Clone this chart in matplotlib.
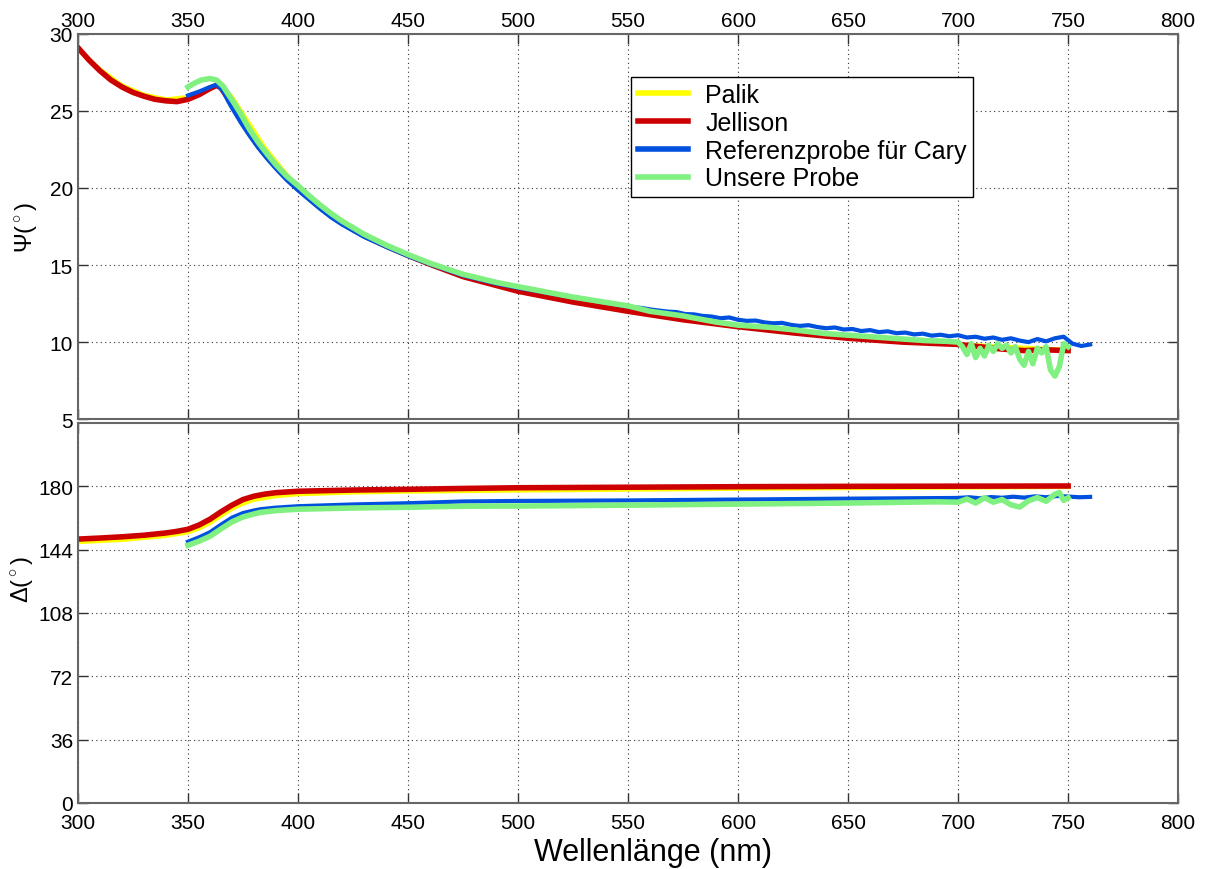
import matplotlib
matplotlib.use("Agg")
import matplotlib.pyplot as plt

plt.rcParams['font.family'] = ['Liberation Sans', 'DejaVu Sans']
plt.rcParams['mathtext.fontset'] = 'custom'
plt.rcParams['mathtext.rm'] = 'Liberation Sans'
plt.rcParams['mathtext.it'] = 'Liberation Sans'

# ---- Psi data (degrees) ----
palik_psi_wl = [300, 310, 320, 330, 340, 350, 355, 360, 363, 366, 370, 375, 380, 385, 390, 400,
                410, 420, 440, 460, 500, 550, 600, 650, 700, 750]
palik_psi = [29.0, 27.7, 26.65, 26.05, 25.75, 25.9, 26.2, 26.55, 26.7, 26.5, 25.9, 24.8, 23.7, 22.6,
             21.7, 20.0, 18.8, 17.8, 16.2, 15.05, 13.4, 12.05, 11.1, 10.3, 9.85, 9.5]

jell_psi_wl = [300, 305, 310, 315, 320, 325, 330, 335, 340, 345, 350, 355, 360, 363, 365, 368, 370,
               374, 378, 382, 386, 390, 395, 400, 405, 410, 415, 420, 430, 440, 450, 460, 475, 490,
               500, 525, 550, 575, 600, 625, 650, 675, 700, 710, 720, 730, 740, 750]
jell_psi = [29.1, 28.3, 27.6, 27.0, 26.55, 26.2, 25.95, 25.75, 25.65, 25.6, 25.75, 26.05, 26.45,
            26.65, 26.5, 25.85, 25.35, 24.4, 23.5, 22.7, 22.0, 21.35, 20.6, 19.95, 19.35, 18.75,
            18.2, 17.72, 16.9, 16.24, 15.62, 15.05, 14.25, 13.68, 13.3, 12.6, 12.0, 11.45, 11.0,
            10.6, 10.25, 10.0, 9.85, 9.7, 9.55, 9.45, 9.5, 9.45]

ref_psi_wl = [350, 355, 360, 363, 366, 368, 370, 374, 378, 382, 386, 390, 395, 400, 405, 410, 415,
              420, 430, 440, 450, 460, 475, 490, 500, 510, 520, 530, 540, 550,
              552, 556, 560, 564, 568, 572, 576, 580, 584, 588, 592, 596, 600, 604, 608, 612, 616,
              620, 624, 628, 632, 636, 640, 644, 648, 652, 656, 660, 664, 668, 672, 676, 680, 684,
              688, 692, 696, 700, 704, 708, 712, 716, 720, 724, 728, 732, 736, 740, 744, 748, 752,
              756, 760]
ref_psi = [26.0, 26.25, 26.55, 26.7, 26.3, 25.7, 25.2, 24.25, 23.4, 22.6, 21.9, 21.25, 20.5, 19.85,
           19.25, 18.65, 18.1, 17.63, 16.83, 16.18, 15.58, 15.05, 14.32, 13.8, 13.52, 13.28, 13.02,
           12.8, 12.55, 12.3,
           12.25, 12.22, 12.12, 12.05, 11.98, 11.95, 11.82, 11.8, 11.7, 11.66, 11.55, 11.6, 11.45,
           11.38, 11.4, 11.28, 11.22, 11.25, 11.12, 11.05, 11.1, 10.98, 10.9, 10.95, 10.82, 10.85,
           10.72, 10.78, 10.65, 10.7, 10.58, 10.62, 10.5, 10.55, 10.42, 10.48, 10.38, 10.45, 10.3,
           10.35, 10.22, 10.3, 10.15, 10.25, 10.1, 10.0, 10.2, 10.05, 10.25, 10.35, 9.9, 9.75, 9.85]

probe_psi_wl = [350, 353, 356, 360, 363, 366, 368, 371, 374, 378, 382, 386, 390, 395, 400, 405, 410,
                415, 420, 430, 440, 450, 460, 475, 490, 500, 525, 550, 560, 575, 590, 600, 615, 625,
                640, 650, 660, 675, 685, 695,
                700, 702, 704, 706, 708, 710, 712, 714, 716, 718, 720, 722, 724, 726, 728, 730, 732,
                734, 736, 738, 740, 742, 744, 746, 748, 750]
probe_psi = [26.55, 26.8, 27.0, 27.1, 27.0, 26.6, 26.15, 25.5, 24.8, 23.8, 22.95, 22.2, 21.5, 20.75,
             20.15, 19.5, 18.9, 18.35, 17.85, 17.0, 16.3, 15.68, 15.12, 14.4, 13.88, 13.6, 12.92,
             12.35, 12.0, 11.7, 11.3, 11.1, 10.95, 10.8, 10.55, 10.45, 10.35, 10.2, 10.1, 10.05,
             10.0, 9.7, 9.2, 9.9, 9.0, 9.6, 9.1, 9.8, 9.4, 9.9, 9.6, 9.8, 9.3, 9.7, 8.9, 8.5, 9.4,
             8.6, 9.6, 9.3, 9.7, 8.2, 7.8, 8.4, 9.9, 9.7]

# ---- Delta data (degrees) ----
palik_del_wl = [300, 320, 340, 350, 355, 360, 365, 370, 375, 380, 390, 400, 425, 450, 500, 550, 600,
                650, 700, 750]
palik_del = [148.3, 149.5, 151.8, 153.8, 156.0, 159.2, 163.3, 167.2, 170.2, 172.3, 174.4, 175.5,
             176.5, 177.0, 177.6, 178.1, 178.6, 179.0, 179.3, 179.6]

jell_del_wl = [300, 310, 320, 330, 340, 345, 350, 355, 360, 365, 370, 375, 380, 385, 390, 400, 425,
               450, 475, 500, 550, 600, 650, 700, 750]
jell_del = [150.0, 150.6, 151.3, 152.2, 153.5, 154.4, 155.6, 158.0, 161.3, 165.5, 169.3, 172.5,
            174.4, 175.6, 176.4, 177.2, 177.9, 178.3, 178.8, 179.2, 179.5, 179.8, 180.0, 180.1, 180.2]

ref_del_wl = [350, 355, 360, 365, 370, 375, 380, 383, 390, 400, 425, 450, 475, 500, 550, 600, 650,
              700, 705, 710, 715, 720, 725, 730, 735, 740, 745, 750, 755, 760]
ref_del = [148.5, 151.0, 153.9, 158.2, 162.2, 164.8, 166.3, 167.0, 167.9, 168.7, 169.7, 170.4,
           171.4, 171.7, 172.0, 172.5, 173.0, 173.4, 173.8, 173.2, 173.9, 173.5, 174.1, 173.6,
           174.3, 173.8, 174.5, 174.2, 173.8, 174.0]

probe_del_wl = [350, 355, 360, 365, 370, 375, 380, 383, 390, 400, 425, 450, 475, 500, 550, 600, 650,
                690, 700, 704, 708, 712, 716, 720, 724, 728, 732, 736, 740, 744, 746, 748, 750]
probe_del = [146.5, 148.8, 151.6, 155.8, 159.8, 162.6, 164.3, 165.2, 166.2, 167.0, 167.7, 168.1,
             168.7, 168.8, 169.3, 169.9, 170.5, 171.2, 171.0, 172.8, 170.5, 173.5, 171.0, 172.5,
             169.5, 168.2, 171.8, 173.6, 171.5, 175.5, 176.5, 172.0, 173.5]

labels = ['Palik', 'Jellison', 'Referenzprobe für Cary', 'Unsere Probe']
colors = ['#ffff00', '#cc0000', '#0050e0', '#80f080']
widths = [3.0, 4.0, 3.0, 4.0]

x_ticks = [300, 350, 400, 450, 500, 550, 600, 650, 700, 750, 800]
psi_ticks = [5, 10, 15, 20, 25, 30]
del_ticks = [0, 36, 72, 108, 144, 180]

fig = plt.figure(figsize=(12.05, 8.7), dpi=100)
ax1 = fig.add_axes([0.0647, 0.517, 0.913, 0.443])
ax2 = fig.add_axes([0.0647, 0.076, 0.913, 0.4366])

psi_sets = [(palik_psi_wl, palik_psi), (jell_psi_wl, jell_psi),
            (ref_psi_wl, ref_psi), (probe_psi_wl, probe_psi)]
del_sets = [(palik_del_wl, palik_del), (jell_del_wl, jell_del),
            (ref_del_wl, ref_del), (probe_del_wl, probe_del)]

for (wl, v), c, lw, lab in zip(psi_sets, colors, widths, labels):
    ax1.plot(wl, v, color=c, lw=lw, label=lab, solid_joinstyle='round')
for (wl, v), c, lw in zip(del_sets, colors, widths):
    ax2.plot(wl, v, color=c, lw=lw, solid_joinstyle='round')

for ax in (ax1, ax2):
    ax.set_xlim(300, 800)
    ax.set_xticks(x_ticks)
    ax.grid(True, linestyle=(0, (1, 3)), color='#333333', linewidth=0.8)
    ax.tick_params(direction='in', length=7, width=1, top=True, right=True,
                   labelsize=15, color='#333333')
    for s in ax.spines.values():
        s.set_color('#666666')
        s.set_linewidth(1.5)

ax1.set_ylim(5, 30)
ax1.set_yticks(psi_ticks)
ax1.tick_params(axis='x', labeltop=True, labelbottom=False, pad=3)
ax1.set_ylabel(r'$\Psi(^\circ)$', fontsize=17, labelpad=8)

ax2.set_ylim(0, 216)
ax2.set_yticks(del_ticks)
ax2.tick_params(axis='x', pad=7)
ax2.set_ylabel(r'$\Delta(^\circ)$', fontsize=17, labelpad=2)
ax2.yaxis.label.set_y(0.59)
ax2.set_xlabel('Wellenlänge (nm)', fontsize=22, labelpad=4)
ax2.xaxis.label.set_x(0.523)

leg = ax1.legend(loc='upper left', bbox_to_anchor=(0.503, 0.888), fontsize=18,
                 frameon=True, fancybox=False, framealpha=1, edgecolor='black',
                 handlelength=2.0, handletextpad=0.7, labelspacing=0.15,
                 borderpad=0.25, borderaxespad=0)
leg.get_frame().set_linewidth(1.0)
for line in leg.get_lines():
    line.set_linewidth(4)

fig.savefig('out.png', dpi=100)
